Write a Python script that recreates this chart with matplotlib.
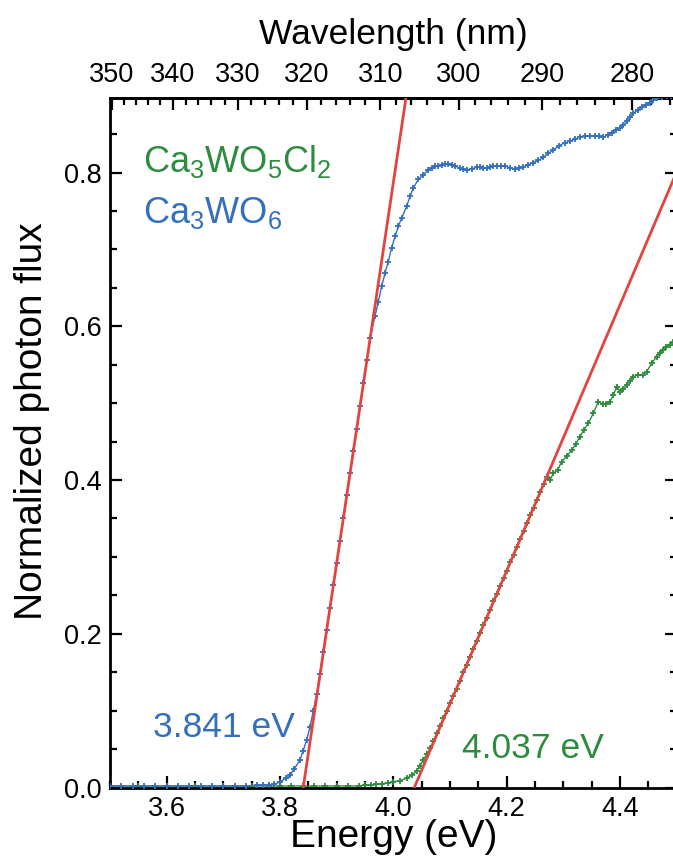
import numpy as np
import matplotlib.pyplot as plt
from matplotlib.ticker import MultipleLocator, FixedLocator

plt.rcParams['font.family'] = ['Liberation Sans', 'DejaVu Sans']
plt.rcParams['mathtext.fontset'] = 'custom'
plt.rcParams['mathtext.rm'] = 'Liberation Sans'
plt.rcParams['mathtext.default'] = 'regular'

# Ca3WO6 (blue): energy [eV], normalized photon flux
e_blue = [3.50, 3.52, 3.54, 3.56, 3.58, 3.60, 3.62, 3.64, 3.66, 3.68, 3.70,
          3.72, 3.74, 3.76, 3.77, 3.78, 3.79, 3.80, 3.81, 3.8176, 3.825,
          3.8353, 3.841, 3.847, 3.853, 3.8588, 3.8647, 3.8706, 3.8765, 3.8824,
          3.8883, 3.8942, 3.9001, 3.9060, 3.9119, 3.9178, 3.9237, 3.9296,
          3.9355, 3.9414, 3.9473, 3.9532, 3.9590, 3.9676, 3.9735, 3.9794,
          3.9853, 3.991, 3.997, 4.003, 4.0088, 4.0147, 4.0235, 4.0294, 4.0353,
          4.044, 4.0528, 4.0617, 4.0676, 4.0735, 4.0794, 4.0853, 4.091, 4.097,
          4.1029, 4.1088, 4.1176, 4.1235, 4.1294, 4.138, 4.147, 4.1529, 4.1588,
          4.1647, 4.1706, 4.1765, 4.1824, 4.1897, 4.197, 4.2059, 4.2147, 4.222,
          4.2294, 4.2382, 4.247, 4.2559, 4.2647, 4.2735, 4.2824, 4.2927, 4.303,
          4.3118, 4.3206, 4.3293, 4.338, 4.347, 4.3559, 4.3632, 4.3706, 4.378,
          4.385, 4.3925, 4.40, 4.4059, 4.4118, 4.4176, 4.4235, 4.431, 4.4382,
          4.4456, 4.453, 4.4588, 4.4647, 4.4735, 4.4823, 4.49]
v_blue = [0.002, 0.002, 0.002, 0.002, 0.002, 0.002, 0.002, 0.002, 0.002, 0.002, 0.002,
          0.002, 0.002, 0.003, 0.003, 0.003, 0.004, 0.0075, 0.012, 0.016, 0.024,
          0.036, 0.048, 0.062, 0.079, 0.100, 0.122, 0.148, 0.176, 0.205,
          0.234, 0.263, 0.292, 0.321, 0.350, 0.380, 0.409, 0.438,
          0.467, 0.496, 0.526, 0.556, 0.585, 0.613, 0.632, 0.652,
          0.669, 0.684, 0.702, 0.717, 0.730, 0.741, 0.756, 0.769, 0.780,
          0.791, 0.797, 0.8035, 0.806, 0.808, 0.809, 0.810, 0.811, 0.8113,
          0.810, 0.8087, 0.8057, 0.804, 0.8035, 0.8044, 0.807, 0.807, 0.806,
          0.8057, 0.807, 0.808, 0.8087, 0.809, 0.8087, 0.806, 0.8044, 0.806,
          0.807, 0.810, 0.813, 0.816, 0.820, 0.825, 0.8295, 0.835, 0.839,
          0.841, 0.8435, 0.846, 0.847, 0.8477, 0.8477, 0.847, 0.846, 0.849,
          0.852, 0.855, 0.8578, 0.862, 0.8665, 0.872, 0.8773, 0.881, 0.885,
          0.888, 0.891, 0.894, 0.8968, 0.898, 0.899, 0.900]

# Ca3WO5Cl2 (green)
e_green = [3.50, 3.55, 3.60, 3.65, 3.70, 3.75, 3.78, 3.80, 3.82, 3.84, 3.86,
           3.88, 3.90, 3.92, 3.94, 3.95, 3.96, 3.97, 3.98, 3.99, 4.00, 4.0118,
           4.0235, 4.0324, 4.041, 4.047, 4.053, 4.0588, 4.0647, 4.0706, 4.0765,
           4.0824, 4.0883, 4.0941, 4.1000, 4.1059, 4.1118, 4.1177, 4.1236,
           4.1295, 4.1354, 4.1413, 4.1472, 4.1531, 4.1590, 4.1649, 4.1708,
           4.1767, 4.1826, 4.1885, 4.1944, 4.2003, 4.2062, 4.2121, 4.2180,
           4.2239, 4.2298, 4.2357, 4.2416, 4.2475, 4.2534, 4.2593, 4.2652,
           4.2706, 4.2765, 4.2824, 4.29, 4.297, 4.306, 4.3147, 4.322, 4.329,
           4.336, 4.344, 4.353, 4.3617, 4.3706, 4.376, 4.382, 4.388, 4.394,
           4.40, 4.406, 4.4118, 4.4176, 4.4235, 4.432, 4.441, 4.447, 4.456,
           4.4647, 4.47, 4.476, 4.482, 4.488, 4.494]
v_green = [0.002, 0.002, 0.002, 0.002, 0.002, 0.002, 0.002, 0.002, 0.002, 0.002, 0.002,
           0.002, 0.002, 0.002, 0.002, 0.003, 0.003, 0.004, 0.005, 0.006, 0.0075, 0.009,
           0.012, 0.016, 0.021, 0.028, 0.036, 0.043, 0.051, 0.060, 0.071,
           0.080, 0.090, 0.100, 0.110, 0.119, 0.128, 0.139, 0.150,
           0.160, 0.170, 0.180, 0.190, 0.201, 0.211, 0.221, 0.231,
           0.242, 0.252, 0.262, 0.272, 0.282, 0.293, 0.303, 0.313,
           0.323, 0.334, 0.344, 0.354, 0.364, 0.374, 0.384, 0.395,
           0.404, 0.400, 0.409, 0.413, 0.424, 0.431, 0.439, 0.447, 0.456,
           0.465, 0.474, 0.487, 0.502, 0.499, 0.499, 0.502, 0.510, 0.5215,
           0.515, 0.518, 0.524, 0.529, 0.5346, 0.537, 0.537, 0.541, 0.552,
           0.5606, 0.565, 0.569, 0.573, 0.576, 0.580]

# linear fits: onset energy [eV] and slope [1/eV]
onset_blue, slope_blue = 3.841, 4.95
onset_green, slope_green = 4.037, 1.73

# top wavelength scale as drawn in the figure
HC_TOP = 1285.4   # nm*eV
E_SHIFT = 0.1695  # eV
wl_ticks = [350, 340, 330, 320, 310, 300, 290, 280]

blue = '#3470bd'
green = '#2e8c3e'
red = '#e4443f'

fig = plt.figure(figsize=(6.73, 8.66), dpi=100)
ax = fig.add_axes([110 / 673, 78.5 / 866, 566.7 / 673, 689.5 / 866])

ax.plot(e_green, v_green, color=green, marker='+', ms=4, mew=1.3, lw=1.0, zorder=2)
ax.plot(e_blue, v_blue, color=blue, marker='+', ms=4, mew=1.3, lw=1.0, zorder=3)

e_fit = np.array([onset_blue, 4.6])
ax.plot(e_fit, slope_blue * (e_fit - onset_blue), color=red, lw=2.0, zorder=4)
e_fit = np.array([onset_green, 4.6])
ax.plot(e_fit, slope_green * (e_fit - onset_green), color=red, lw=2.0, zorder=4)

ax.set_xlim(3.5, 4.5)
ax.set_ylim(0, 0.897)

ax.text(3.5588, 0.801, r'Ca$_3$WO$_5$Cl$_2$', color=green, fontsize=26, va='baseline')
ax.text(3.5588, 0.7345, r'Ca$_3$WO$_6$', color=blue, fontsize=26, va='baseline')
ax.text(3.5764, 0.0661, '3.841 eV', color=blue, fontsize=25.5, va='baseline')
ax.text(4.1211, 0.0384, '4.037 eV', color=green, fontsize=25.5, va='baseline')

ax.xaxis.set_major_locator(MultipleLocator(0.2))
ax.xaxis.set_minor_locator(MultipleLocator(0.05))
ax.yaxis.set_major_locator(MultipleLocator(0.2))
ax.yaxis.set_minor_locator(MultipleLocator(0.05))
ax.tick_params(which='both', direction='in', top=False, right=True, width=1.6,
               labelsize=19.5)
ax.tick_params(which='major', length=8.4)
ax.tick_params(which='minor', length=4.8)
ax.tick_params(axis='x', pad=6)
ax.tick_params(axis='y', pad=6)
for s in ax.spines.values():
    s.set_linewidth(2.0)

ax.set_xlabel('Energy (eV)', fontsize=28)
ax.xaxis.set_label_coords(0.5, -0.046)
ax.set_ylabel('Normalized photon flux', fontsize=28)
ax.yaxis.set_label_coords(-0.106, 0.5315)

secax = ax.secondary_xaxis('top', functions=(lambda e: HC_TOP / (e + E_SHIFT),
                                             lambda w: HC_TOP / w - E_SHIFT))
secax.xaxis.set_major_locator(FixedLocator(wl_ticks))
secax.xaxis.set_minor_locator(MultipleLocator(2))
secax.tick_params(which='both', direction='in', width=1.6, labelsize=19.5, pad=7)
secax.tick_params(which='major', length=8.4)
secax.tick_params(which='minor', length=4.8)
secax.spines['top'].set_linewidth(2.0)
secax.set_xlabel('Wavelength (nm)', fontsize=25.5, labelpad=13)

fig.savefig('out.png', dpi=100)
